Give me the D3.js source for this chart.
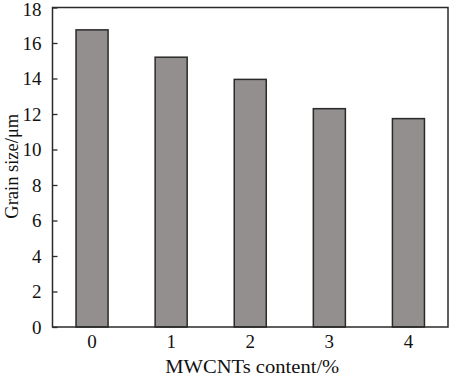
<!DOCTYPE html>
<html><head><meta charset="utf-8">
<script src="https://cdn.jsdelivr.net/npm/d3@7"></script>
<style>body{margin:0;background:#fff;}svg{display:block;}
svg text{font-family:"Liberation Serif","Times New Roman",Times,serif;fill:#111;}</style>
</head><body>
<svg id="c" width="450" height="378"></svg>
<script>
const categories = ["0","1","2","3","4"];
const grainSize = [16.74, 15.20, 13.95, 12.30, 11.74];
const yTicks = [0,2,4,6,8,10,12,14,16,18];

const m = {left:52.5, right:448, top:7.5, bottom:327};
const svg = d3.select("#c");
const fs = 19;

const x = d3.scaleBand().domain(categories).range([m.left, m.right]).paddingInner(0.595).paddingOuter(0.2975);
const y = d3.scaleLinear().domain([0,18]).range([m.bottom, m.top]);

svg.append("g").selectAll("rect").data(grainSize).join("rect")
  .attr("x",(d,i)=>x(categories[i]))
  .attr("y",d=>y(d))
  .attr("width",x.bandwidth())
  .attr("height",d=>y(0)-y(d))
  .attr("fill","#938f8e").attr("stroke","#2a2a2a").attr("stroke-width",1.5);

svg.append("rect").attr("x",m.left).attr("y",m.top).attr("width",m.right-m.left).attr("height",m.bottom-m.top)
  .attr("fill","none").attr("stroke","#2a2a2a").attr("stroke-width",1.5);

const ya = svg.append("g").attr("transform",`translate(${m.left},0)`)
  .call(d3.axisLeft(y).tickValues(yTicks).tickSizeInner(-5).tickSizeOuter(0).tickPadding(11));
ya.select(".domain").remove();
ya.selectAll("line").attr("stroke","#2a2a2a").attr("stroke-width",1.3);
ya.selectAll("text").attr("font-size",fs).attr("font-family",null);
ya.selectAll(".tick").filter(d=>d===18).select("text").attr("y",1.5);

const xa = svg.append("g").attr("transform",`translate(0,${m.bottom})`)
  .call(d3.axisBottom(x).tickSize(0).tickPadding(8));
xa.select(".domain").remove();
xa.selectAll("text").attr("font-size",fs).attr("font-family",null);

svg.append("text").attr("x",(m.left+m.right)/2 + 2).attr("y",373)
  .attr("text-anchor","middle").attr("font-size",fs)
  .attr("textLength",174).attr("lengthAdjust","spacingAndGlyphs")
  .text("MWCNTs content/%");
svg.append("text").attr("transform",`translate(17.5,${(m.top+m.bottom)/2 - 1}) rotate(-90)`)
  .attr("text-anchor","middle").attr("font-size",18.5)
  .text("Grain size/μm");
</script>
</body></html>
